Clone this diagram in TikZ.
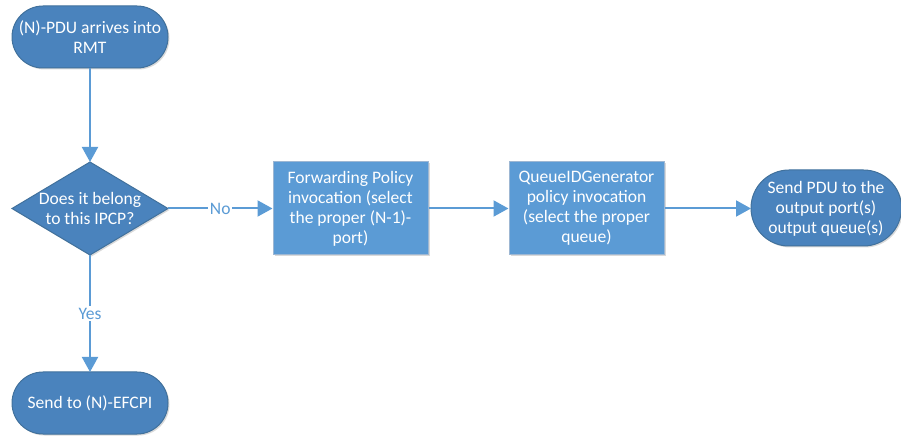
\documentclass[tikz,border=0pt]{standalone}
\usepackage{fontspec}
\setmainfont{Carlito}
\usetikzlibrary{shapes.geometric,arrows.meta,shadows}
\definecolor{darkfill}{HTML}{4A83BD}
\definecolor{darkedge}{HTML}{41719C}
\definecolor{lightfill}{HTML}{5B9BD5}
\definecolor{lightedge}{HTML}{9DB7D3}
\definecolor{linecol}{HTML}{5B9BD5}
\tikzset{
  txt/.style={text=white, font=\fontsize{17.6}{20}\selectfont, align=center, inner sep=0pt},
  shadowed/.style={drop shadow={shadow xshift=1.5bp, shadow yshift=-1.5bp, fill=black, opacity=0.15}},
  terminal/.style={shadowed, draw=darkedge, fill=darkfill, line width=1bp, rounded corners=31bp},
  decision/.style={shadowed, draw=darkedge, fill=darkfill, line width=1bp},
  process/.style={txt, shadowed, draw=lightedge, fill=lightfill, line width=1bp},
  flow/.style={draw=linecol, line width=2bp, -{Triangle[length=15bp,width=16bp]}},
  lbl/.style={fill=white, text=linecol, font=\fontsize{17.6}{20}\selectfont, inner sep=1.5bp}
}
\begin{document}
\begin{tikzpicture}[x=1bp,y=-1bp]
\useasboundingbox (0,0) rectangle (901,437);
% top terminal
\draw[terminal] (12,6) rectangle (168,68);
\node[txt] (start) at (90,37) {(N)-PDU arrives into\\RMT};
\coordinate (startS) at (90,68);
% decision
\path[decision] (90,162) -- (168,208.5) -- (90,255) -- (12,208.5) -- cycle;
\node[txt] (dec) at (90,208.5) {Does it belong\\to this IPCP?};
\coordinate (decN) at (90,162);
\coordinate (decE) at (168,208.5);
\coordinate (decS) at (90,255);
% process boxes
\node[process, minimum width=155bp, minimum height=93bp] (fwd) at (350.5,208.5) {Forwarding Policy\\invocation (select\\the proper (N-1)-\\port)};
\node[process, minimum width=155bp, minimum height=93bp] (qid) at (586.5,208.5) {QueueIDGenerator\\policy invocation\\(select the proper\\queue)};
% right terminal
\draw[terminal, rounded corners=38bp] (751,170) rectangle (901.5,246);
\node[txt] (out) at (826,208.5) {Send PDU to the\\output port(s)\\output queue(s)};
\coordinate (outW) at (751,208.5);
% bottom terminal
\draw[terminal] (12,372) rectangle (168,434);
\node[txt] (efcpi) at (90,403) {Send to (N)-EFCPI};
\coordinate (efN) at (90,372);
% connectors
\draw[flow] (startS) -- (decN);
\draw[flow] (decE) -- node[lbl] {No} (fwd.west);
\draw[flow] (fwd.east) -- (qid.west);
\draw[flow] (qid.east) -- (outW);
\draw[flow] (decS) -- node[lbl, pos=0.5] {Yes} (efN);
\end{tikzpicture}
\end{document}
